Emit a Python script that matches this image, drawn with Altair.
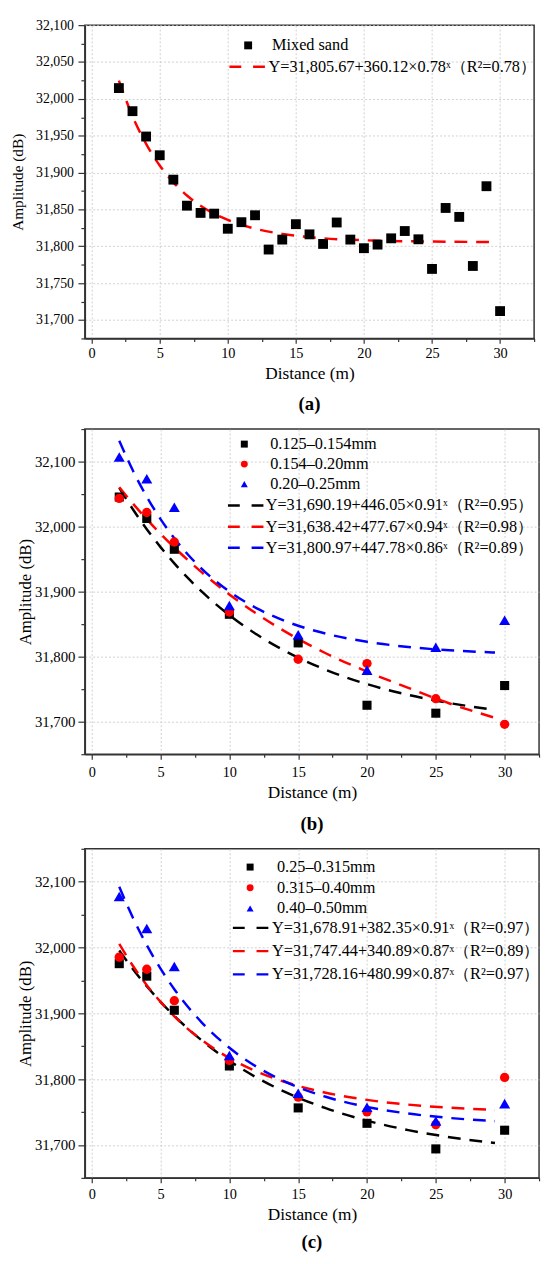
import altair as alt
import pandas as pd

# ---------------- data ----------------
# panel (a)
a_x = list(range(2, 31))
a_y = [32014.6, 31983.3, 31948.9, 31923.5, 31890.4, 31855.1, 31845.3, 31844.3,
       31823.8, 31832.7, 31842.1, 31795.6, 31809.1, 31830.0, 31816.2, 31803.2,
       31832.3, 31809.1, 31797.4, 31802.3, 31810.8, 31820.7, 31809.5, 31769.3,
       31852.0, 31839.9, 31773.3, 31881.5, 31712.1]
a_names = ["Mixed sand"]
a_fit_names = ["Y=31,805.67+360.12×0.78ˣ（R²=0.78）"]

# fitted curves, sampled at these distances
fit_x = [2, 3, 4, 5, 6, 7, 8, 10, 12, 14, 17, 20, 23, 26, 29.3]
a_fit = [32024.8, 31976.6, 31939.0, 31909.6, 31886.8, 31868.9, 31855.0, 31835.7,
         31823.9, 31816.8, 31810.9, 31808.2, 31806.9, 31806.2, 31805.9]

# panels (b) and (c)
bc_x = [2, 4, 6, 10, 15, 20, 25, 30]
b_names = ["0.125–0.154mm", "0.154–0.20mm", "0.20–0.25mm"]
b1 = [32045.5, 32012.6, 31965.2, 31865.2, 31821.2, 31725.3, 31713.1, 31755.6]
b2 = [32043.4, 32021.7, 31976.3, 31868.7, 31796.0, 31789.4, 31735.4, 31696.0]
b3 = [32107.0, 32073.7, 32029.8, 31878.8, 31833.8, 31779.3, 31814.6, 31856.1]
b_fit_names = ["Y=31,690.19+446.05×0.91ˣ（R²=0.95）",
               "Y=31,638.42+477.67×0.94ˣ（R²=0.98）",
               "Y=31,800.97+447.78×0.86ˣ（R²=0.89）"]
b_fit1 = [32059.6, 32026.3, 31996.1, 31968.5, 31943.5, 31920.7, 31899.9, 31863.9,
          31834.0, 31809.3, 31779.9, 31757.8, 31741.2, 31728.6, 31718.3]
b_fit2 = [32060.5, 32035.2, 32011.4, 31989.0, 31968.0, 31948.2, 31929.6, 31895.7,
          31865.8, 31839.3, 31805.3, 31777.0, 31752.0, 31728.0, 31706.0]
b_fit3 = [32132.1, 32085.8, 32045.9, 32011.6, 31982.1, 31956.8, 31935.0, 31900.1,
          31874.3, 31855.2, 31835.4, 31822.9, 31814.9, 31809.8, 31806.4]

c_names = ["0.25–0.315mm", "0.315–0.40mm", "0.40–0.50mm"]
c1 = [31975.5, 31956.5, 31904.7, 31820.0, 31756.3, 31732.9, 31694.0, 31722.4]
c2 = [31985.4, 31967.0, 31919.2, 31828.5, 31772.7, 31750.3, 31730.9, 31802.6]
c3 = [32077.6, 32028.8, 31971.0, 31836.0, 31778.7, 31757.3, 31736.4, 31762.8]
c_fit_names = ["Y=31,678.91+382.35×0.91ˣ（R²=0.97）",
               "Y=31,747.44+340.89×0.87ˣ（R²=0.89）",
               "Y=31,728.16+480.99×0.87ˣ（R²=0.97）"]
c_fit1 = [31995.5, 31967.0, 31941.1, 31917.5, 31896.0, 31876.5, 31858.7, 31827.8,
          31802.2, 31781.0, 31755.9, 31736.9, 31722.6, 31711.8, 31703.0]
c_fit2 = [32005.5, 31971.9, 31942.7, 31917.4, 31895.3, 31876.0, 31859.3, 31832.1,
          31811.5, 31796.0, 31779.4, 31768.5, 31761.3, 31756.6, 31753.2]
c_fit3 = [32092.2, 32044.9, 32003.7, 31967.9, 31936.7, 31909.6, 31886.0, 31847.6,
          31818.6, 31796.6, 31773.2, 31757.8, 31747.7, 31741.0, 31736.3]

x_ticks = [i * 2.5 for i in range(0, 14)]
a_y_ticks = list(range(31675, 32101, 25))
bc_y_ticks = list(range(31650, 32151, 50))

PT_COLORS = ["#000000", "#FF0000", "#0000FF"]
SHAPES = ["square", "circle", "triangle-up"]
SIZES = [85, 90, 125]
FONT = "Liberation Serif"


def make_panel(px, series, names, fits, fit_names, pt_colors, line_colors, shapes, sizes,
               ydom, yticks, ymajor, width, height, caption, ylab_size, ytitle_size,
               ytitle_pad, ylab_pad, xlab_pad, xtitle_pad, cap_offset,
               sym_pos, line_pos, sym_rowpad, line_rowpad, sym_size,
               sym_laboff, line_laboff):
    pts = pd.DataFrame([
        {"x": xv, "y": yv, "series": nm, "sz": sz}
        for nm, vals, sz in zip(names, series, sizes) for xv, yv in zip(px, vals)
    ])
    fdf = pd.DataFrame([
        {"x": xv, "y": yv, "fit": nm}
        for nm, vals in zip(fit_names, fits) for xv, yv in zip(fit_x, vals)
    ])

    xenc = alt.X("x:Q", scale=alt.Scale(domain=[-0.5, 32.5], nice=False, zero=False),
                 axis=alt.Axis(values=x_ticks, title="Distance (m)",
                               labelExpr="datum.value % 5 === 0 ? datum.label : ''",
                               tickSize={"condition": {"test": "datum.value % 5 === 0", "value": 5}, "value": 3},
                               gridOpacity={"condition": {"test": "datum.value % 5 === 0", "value": 1}, "value": 0},
                               labelFontSize=14.5, titleFontSize=17.5,
                               labelPadding=xlab_pad, titlePadding=xtitle_pad,
                               labelFlush=False, labelOverlap=False))
    yenc = alt.Y("y:Q", scale=alt.Scale(domain=ydom, nice=False, zero=False),
                 axis=alt.Axis(values=yticks, title="Amplitude (dB)", format=",.0f",
                               labelExpr=f"datum.value % {ymajor} === 0 ? datum.label : ''",
                               tickSize={"condition": {"test": f"datum.value % {ymajor} === 0", "value": 7}, "value": 4},
                               gridOpacity={"condition": {"test": f"datum.value % {ymajor} === 0", "value": 1}, "value": 0},
                               labelFontSize=ylab_size, titleFontSize=ytitle_size,
                               labelPadding=ylab_pad, titlePadding=ytitle_pad,
                               labelOverlap=False))

    sym_legend = alt.Legend(title=None, orient="none", legendX=sym_pos[0], legendY=sym_pos[1],
                            symbolSize=sym_size, labelOffset=sym_laboff, rowPadding=sym_rowpad,
                            labelFontSize=16.5, labelFont=FONT, labelColor="#000",
                            labelLimit=500, padding=0, symbolStrokeWidth=0)
    line_legend = alt.Legend(title=None, orient="none", legendX=line_pos[0], legendY=line_pos[1],
                             symbolType="M-3,0L3,0", symbolSize=144, symbolStrokeWidth=2.5,
                             symbolDash=[12, 12], labelOffset=line_laboff, rowPadding=line_rowpad,
                             labelFontSize=16.5, labelFont=FONT, labelColor="#000",
                             labelLimit=500, padding=0)

    lines = alt.Chart(fdf).mark_line(strokeDash=[13, 9], strokeWidth=2.5,
                                     interpolate="monotone").encode(
        x=xenc, y=yenc,
        stroke=alt.Stroke("fit:N", scale=alt.Scale(domain=fit_names, range=line_colors),
                          legend=line_legend),
    )
    points = alt.Chart(pts).mark_point(filled=True, opacity=1).encode(
        x=xenc, y=yenc,
        fill=alt.Fill("series:N", scale=alt.Scale(domain=names, range=pt_colors),
                      legend=sym_legend),
        shape=alt.Shape("series:N", scale=alt.Scale(domain=names, range=shapes),
                        legend=sym_legend),
        size=alt.Size("sz:Q", scale=None, legend=None),
    )
    return alt.layer(lines, points).properties(
        width=width, height=height,
        title=alt.TitleParams(caption, orient="bottom", anchor="middle", fontSize=19,
                              fontWeight="bold", font=FONT, color="#000",
                              offset=cap_offset),
    )


pa = make_panel(a_x, [a_y], a_names, [a_fit], a_fit_names,
                ["#000000"], ["#FF0000"], ["square"], [100],
                [31675, 32100], a_y_ticks, 50,
                456, 318, "(a)", 14, 15.5, 10, 4.5, 3, 5, 14,
                (157.5, 12.3), (156.5, 34), 4, 4, 64, 16, 13.5)
pb = make_panel(bc_x, [b1, b2, b3], b_names, [b_fit1, b_fit2, b_fit3], b_fit_names,
                PT_COLORS, PT_COLORS, SHAPES, SIZES,
                [31650, 32150], bc_y_ticks, 100,
                461, 330, "(b)", 15, 17, 0, 3, 7, 4, 15,
                (153.6, 7), (155, 69.3), 3.3, 4.5, 50, 18, 12)
pc = make_panel(bc_x, [c1, c2, c3], c_names, [c_fit1, c_fit2, c_fit3], c_fit_names,
                PT_COLORS, PT_COLORS, SHAPES, SIZES,
                [31650, 32150], bc_y_ticks, 100,
                461, 334, "(c)", 15, 17, 0, 3, 5, 5, 10,
                (159.5, 10.3), (160, 72), 4, 6.6, 50, 19, 13.5)

chart = alt.vconcat(pa, pb, pc, spacing=6).resolve_scale(
    fill="independent", shape="independent", stroke="independent",
    x="independent", y="independent",
).properties(
    padding={"left": 2, "top": 0, "right": 0, "bottom": 0}
).configure(font=FONT).configure_view(
    stroke="#333333", strokeWidth=1.5
).configure_axis(
    labelFont=FONT, titleFont=FONT, labelColor="#000", titleColor="#000",
    titleFontWeight="normal", domainColor="#333333", domainWidth=1.5,
    tickColor="#333333", tickWidth=1.2, gridColor="#c4c4c4", gridDash=[2, 2],
    gridWidth=0.8,
)

chart.save("out.html", embed_options={"renderer": "svg", "actions": False})
